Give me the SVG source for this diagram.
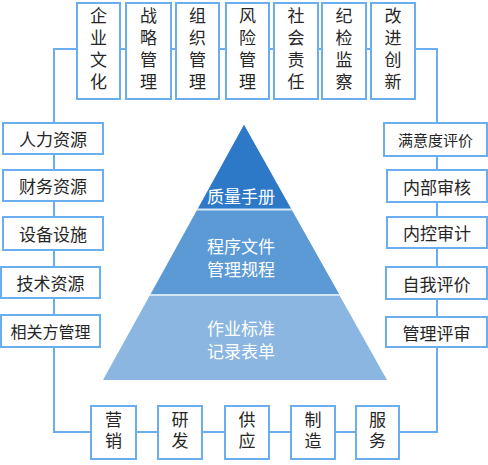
<svg xmlns="http://www.w3.org/2000/svg" width="488" height="465" viewBox="0 0 488 465">
<style>
.box{fill:#fff;stroke:#6aaef0;stroke-width:2}
.t{font-family:"Noto Sans CJK SC","Liberation Sans",sans-serif;font-size:17px;fill:#262626;text-anchor:middle;dominant-baseline:central}
.v{font-family:"Liberation Sans","Noto Sans CJK SC",sans-serif;font-size:17px;fill:#262626;text-anchor:middle;dominant-baseline:central}
.w{font-family:"Noto Sans CJK SC","Liberation Sans",sans-serif;font-size:17px;fill:#fff;text-anchor:middle;dominant-baseline:central}
.c{fill:none;stroke:#6aaef0;stroke-width:2}
</style>
<rect width="488" height="465" fill="#fff"/>
<g id="connectors">
<path class="c" d="M54,49 H437 V432 H54 Z"/>
</g>
<g id="pyramid">
<polygon points="244,125 103,380 387,380" fill="#8ab6e1"/>
<polygon points="244,125 151,294 339,294" fill="#5b9ad5"/>
<polygon points="244,125 198,209 291,209" fill="#2e78c8"/>
<line x1="197" y1="209.5" x2="292" y2="209.5" stroke="#d3e5f6" stroke-width="2"/>
<line x1="150" y1="295" x2="340" y2="295" stroke="#d3e5f6" stroke-width="2"/>
<text class="w" x="241" y="195">质量手册</text>
<text class="w" x="241" y="245">程序文件</text>
<text class="w" x="241" y="268">管理规程</text>
<text class="w" x="241" y="327">作业标准</text>
<text class="w" x="241" y="350">记录表单</text>
</g>
<g id="top1"><rect class="box" x="77" y="3" width="43" height="96"/><text class="v" x="98.5" y="16.5">企</text><text class="v" x="98.5" y="38.5">业</text><text class="v" x="98.5" y="60.5">文</text><text class="v" x="98.5" y="82.5">化</text></g>
<g id="top2"><rect class="box" x="126" y="3" width="45" height="96"/><text class="v" x="148.5" y="16.5">战</text><text class="v" x="148.5" y="38.5">略</text><text class="v" x="148.5" y="60.5">管</text><text class="v" x="148.5" y="82.5">理</text></g>
<g id="top3"><rect class="box" x="176" y="3" width="43" height="96"/><text class="v" x="197.5" y="16.5">组</text><text class="v" x="197.5" y="38.5">织</text><text class="v" x="197.5" y="60.5">管</text><text class="v" x="197.5" y="82.5">理</text></g>
<g id="top4"><rect class="box" x="226" y="3" width="43" height="96"/><text class="v" x="247.5" y="16.5">风</text><text class="v" x="247.5" y="38.5">险</text><text class="v" x="247.5" y="60.5">管</text><text class="v" x="247.5" y="82.5">理</text></g>
<g id="top5"><rect class="box" x="274" y="3" width="44" height="96"/><text class="v" x="296" y="16.5">社</text><text class="v" x="296" y="38.5">会</text><text class="v" x="296" y="60.5">责</text><text class="v" x="296" y="82.5">任</text></g>
<g id="top6"><rect class="box" x="322" y="3" width="44" height="96"/><text class="v" x="344" y="16.5">纪</text><text class="v" x="344" y="38.5">检</text><text class="v" x="344" y="60.5">监</text><text class="v" x="344" y="82.5">察</text></g>
<g id="top7"><rect class="box" x="371" y="3" width="44" height="96"/><text class="v" x="393" y="16.5">改</text><text class="v" x="393" y="38.5">进</text><text class="v" x="393" y="60.5">创</text><text class="v" x="393" y="82.5">新</text></g>
<g id="left1"><rect class="box" x="3" y="123" width="100" height="31"/><text class="t" x="53" y="138.5">人力资源</text></g>
<g id="left2"><rect class="box" x="3" y="170" width="100" height="31"/><text class="t" x="53" y="185.5">财务资源</text></g>
<g id="left3"><rect class="box" x="3" y="217" width="100" height="33"/><text class="t" x="53" y="233.5">设备设施</text></g>
<g id="left4"><rect class="box" x="1" y="267" width="99" height="31"/><text class="t" x="50.5" y="282.5">技术资源</text></g>
<g id="left5"><rect class="box" x="1" y="315" width="99" height="32"/><text class="t" x="50.5" y="331" style="font-size:16px">相关方管理</text></g>
<g id="right1"><rect class="box" x="384" y="123" width="103" height="33"/><text class="t" x="435.5" y="139.5" style="font-size:15px">满意度评价</text></g>
<g id="right2"><rect class="box" x="387" y="170" width="100" height="32"/><text class="t" x="437" y="186">内部审核</text></g>
<g id="right3"><rect class="box" x="387" y="217" width="100" height="31"/><text class="t" x="437" y="232.5">内控审计</text></g>
<g id="right4"><rect class="box" x="386" y="267" width="101" height="32"/><text class="t" x="436.5" y="283">自我评价</text></g>
<g id="right5"><rect class="box" x="386" y="317" width="101" height="30"/><text class="t" x="436.5" y="332">管理评审</text></g>
<g id="bot1"><rect class="box" x="91" y="406" width="45" height="53"/><text class="v" x="113.5" y="420.5">营</text><text class="v" x="113.5" y="441.5">销</text></g>
<g id="bot2"><rect class="box" x="158" y="406" width="44" height="53"/><text class="v" x="180" y="420.5">研</text><text class="v" x="180" y="441.5">发</text></g>
<g id="bot3"><rect class="box" x="225" y="406" width="44" height="53"/><text class="v" x="247" y="420.5">供</text><text class="v" x="247" y="441.5">应</text></g>
<g id="bot4"><rect class="box" x="291" y="406" width="44" height="53"/><text class="v" x="313" y="420.5">制</text><text class="v" x="313" y="441.5">造</text></g>
<g id="bot5"><rect class="box" x="356" y="406" width="43" height="53"/><text class="v" x="377.5" y="420.5">服</text><text class="v" x="377.5" y="441.5">务</text></g>
</svg>
